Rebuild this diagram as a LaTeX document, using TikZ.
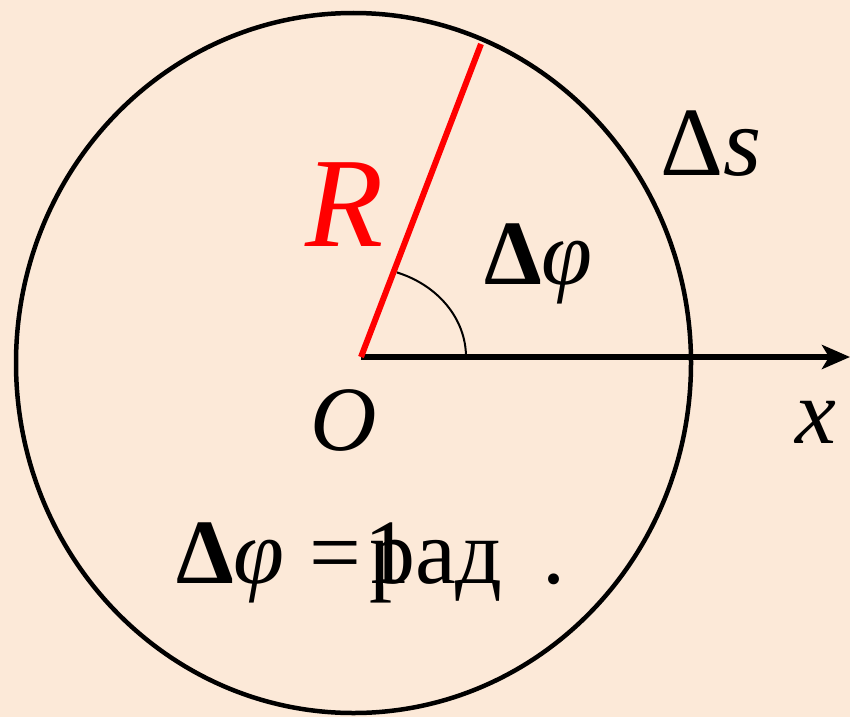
\documentclass[tikz,border=0pt]{standalone}
\usepackage{fontspec}
\setmainfont{Liberation Serif}
\newfontfamily\itf{LiberationSerif-Italic.ttf}
\newfontfamily\bff{LiberationSerif-Bold.ttf}
\usetikzlibrary{arrows.meta}
\definecolor{bg}{RGB}{252,233,216}
\tikzset{
  lbl/.style={anchor=base west,inner sep=0pt,outer sep=0pt,font=\fontsize{92}{110}\selectfont},
}
\begin{document}
\begin{tikzpicture}[x=1pt,y=-1pt]
\fill[bg] (0,0) rectangle (850,717);
\useasboundingbox (0,0) rectangle (850,717);
\coordinate (O) at (361,357);
\coordinate (A) at (481,44);
\coordinate (X) at (850,357);
\coordinate (C) at (353.5,363);
\draw[line width=4.5pt] (C) ellipse [x radius=337.5pt, y radius=350pt];
\draw[line width=5.5pt,-{Stealth[length=28pt,width=24pt,inset=7pt]}] (O) -- (X);
\draw[line width=2pt] ([xshift=105pt]O) arc[start angle=0,end angle=70,x radius=105pt,y radius=90pt];
\draw[red,line width=6pt] (O) -- (A);
\node[lbl,font=\fontsize{98}{118}\selectfont] (ds) at (660,175) {Δ{\itf s}};
\node[lbl,text=red,font=\fontsize{128}{150}\selectfont] (R) at (305,246) {{\itf R}};
\node[lbl] (dphi) at (484,284) {{\bff Δ}{\itf φ}};
\node[lbl] (Olab) at (310,450) {{\itf O}};
\node[lbl] (xlab) at (795,443) {{\itf x}};
\node[lbl] (f1) at (176,583) {{\bff Δ}{\itf φ}};
\node[lbl] (eq) at (309,583) {=};
\node[lbl] (one) at (364,583) {1};
\node[lbl] (rad) at (369,583) {рад};
\node[lbl] (dot) at (542,583) {.};
\end{tikzpicture}
\end{document}
